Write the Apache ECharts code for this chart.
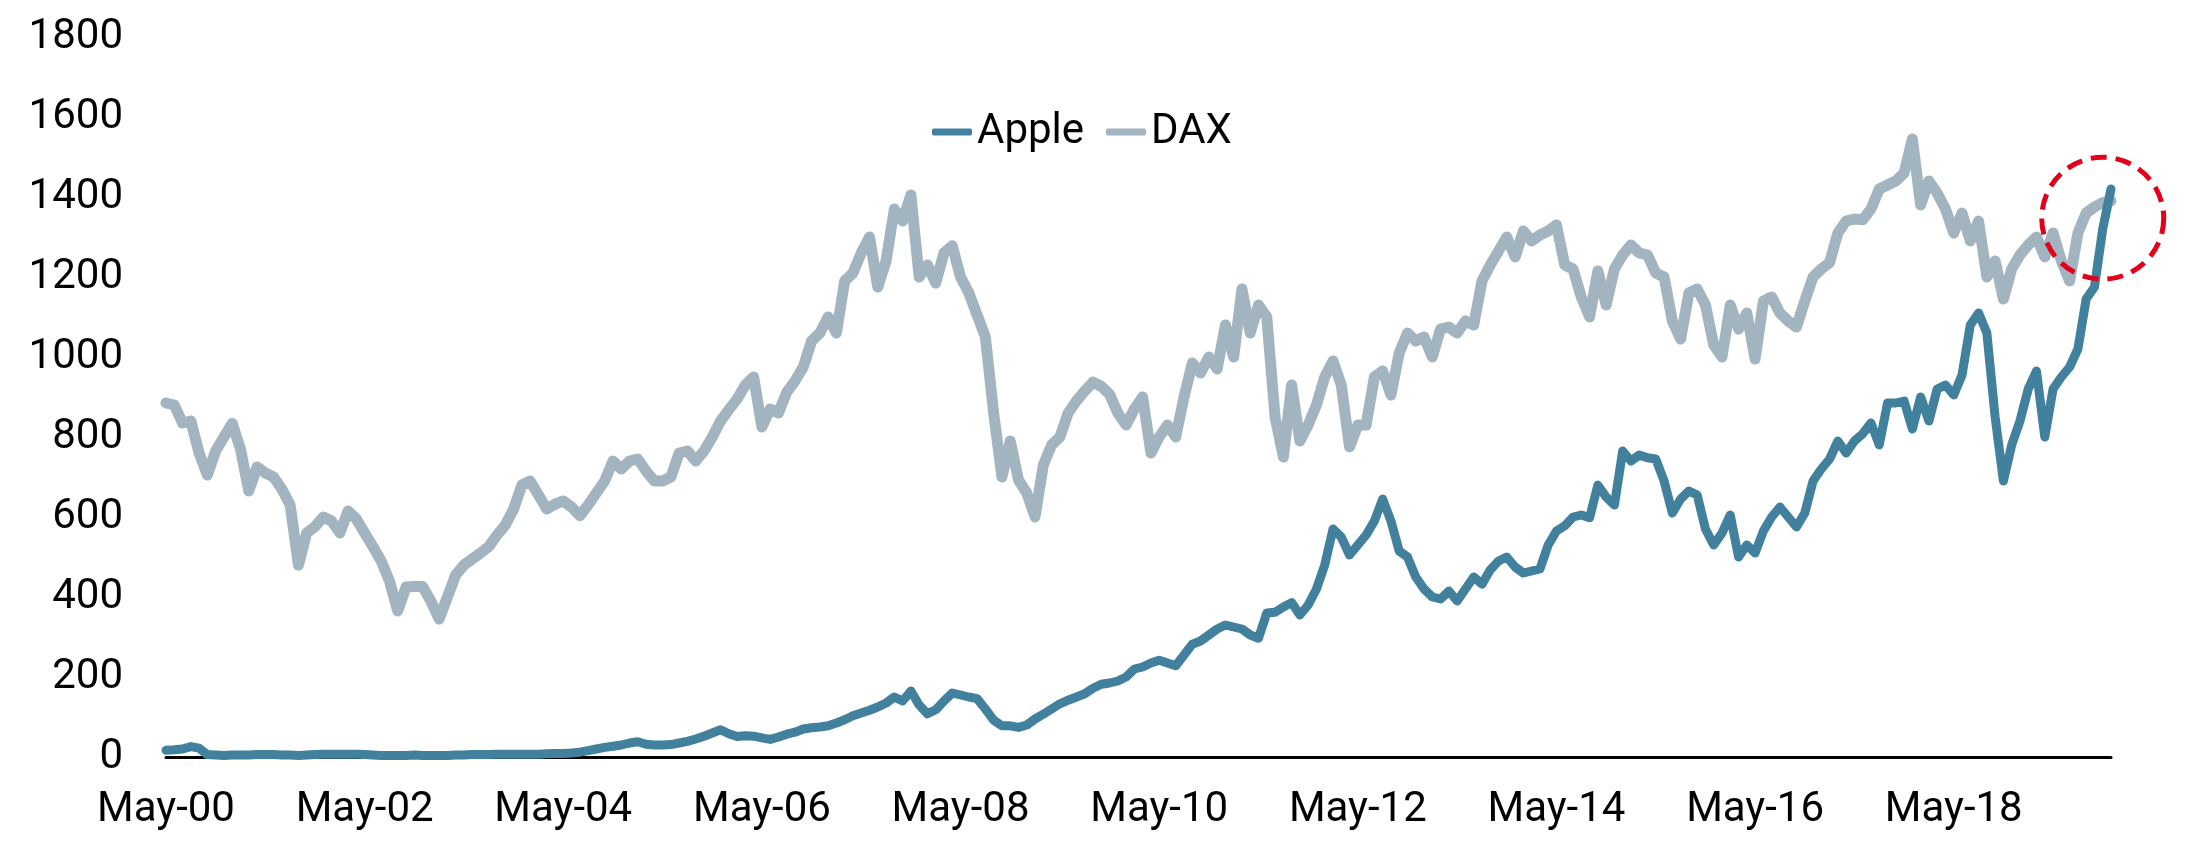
<!DOCTYPE html>
<html>
<head>
<meta charset="utf-8">
<script src="https://cdn.jsdelivr.net/npm/echarts@6/dist/echarts.min.js"></script>
<style>
html,body{margin:0;padding:0;background:#fff;}
#chart{width:2200px;height:850px;}
</style>
</head>
<body>
<div id="chart"></div>
<script>
// Monthly categories: May-00 .. Dec-19
const monthNames = ['Jan','Feb','Mar','Apr','May','Jun','Jul','Aug','Sep','Oct','Nov','Dec'];
const categories = [];
for (let y = 2000, m = 4; y < 2020; ) {
  categories.push(monthNames[m] + '-' + String(y % 100).padStart(2, '0'));
  m++; if (m > 11) { m = 0; y++; }
}

const seriesNames = ['Apple', 'DAX'];

const appleValues = [
  17,18,20,26,22,6,5,4,5,5,5,6,6,6,5,5,4,5,6,7,7,7,7,7,
  6,5,4,4,4,4,5,4,4,4,4,5,5,6,6,6,7,7,7,7,7,7,8,9,
  9,10,12,16,20,24,27,30,35,38,32,30,30,31,35,39,45,52,60,68,58,51,53,52,
  48,44,50,57,62,70,73,75,78,85,93,103,110,117,125,135,150,140,165,130,108,118,140,160,
  155,150,146,120,92,78,78,74,80,95,107,120,133,142,150,158,172,182,185,190,200,220,225,235,
  242,235,228,255,282,290,305,320,330,325,320,305,297,360,362,375,386,355,380,420,480,570,550,505,
  530,555,590,645,590,515,500,450,420,400,395,415,390,420,450,432,468,490,500,475,460,465,470,530,
  565,578,600,605,598,680,650,630,765,740,755,748,745,690,610,645,665,655,570,530,560,605,500,530,
  510,565,600,625,600,575,610,690,720,745,790,760,790,808,835,780,885,885,890,820,900,840,920,930,
  905,955,1080,1110,1060,850,690,780,840,920,965,800,920,950,975,1020,1145,1175,1320,1420
];

const daxValues = [
  885,880,835,840,760,705,765,800,834,770,665,725,710,700,670,630,480,560,576,600,590,560,615,595,
  560,526,490,440,365,425,426,426,390,345,400,455,480,495,510,526,555,580,620,680,690,655,620,632,
  640,625,603,630,660,690,740,720,740,745,715,690,690,700,760,765,740,765,800,840,868,895,930,950,
  825,870,860,912,940,975,1040,1060,1100,1060,1190,1210,1260,1300,1175,1240,1370,1340,1405,1200,1230,1185,1260,1278,
  1200,1160,1105,1050,860,700,790,693,660,600,730,780,800,860,890,915,937,927,907,860,830,870,900,760,
  800,830,800,900,985,960,1000,970,1080,1000,1170,1060,1130,1100,850,750,930,790,830,880,950,990,930,775,
  830,830,950,965,905,1010,1060,1040,1050,1000,1070,1075,1060,1090,1080,1190,1230,1265,1300,1250,1315,1290,1305,1315,
  1330,1230,1220,1150,1100,1215,1130,1220,1255,1280,1260,1255,1210,1200,1090,1045,1160,1170,1130,1030,1000,1130,1070,1110,
  995,1140,1150,1110,1090,1075,1140,1200,1220,1236,1310,1340,1345,1343,1370,1420,1430,1440,1460,1545,1380,1440,1410,1370,
  1310,1360,1290,1340,1200,1240,1145,1220,1255,1280,1300,1250,1310,1240,1190,1310,1360,1375,1386,1390
];

// Highlight annotation (red dashed circle) near the crossing point
const highlightCategory = 'Nov-19';
const highlightValue = 1347;

const yTicks = { min: 0, max: 1800, interval: 200 };

const chart = echarts.init(document.getElementById('chart'), null, { renderer: 'canvas' });
const font = 'Roboto, "Noto Sans", sans-serif';

chart.setOption({
  animation: false,
  backgroundColor: '#ffffff',
  grid: { left: 166, right: 89, top: 37, bottom: 93, containLabel: false },
  legend: {
    data: seriesNames,
    left: 927,
    top: 106,
    itemWidth: 40,
    itemHeight: 7,
    itemGap: 22,
    icon: 'roundRect',
    textStyle: { fontFamily: font, fontSize: 42, color: '#000' }
  },
  xAxis: {
    type: 'category',
    data: categories,
    boundaryGap: false,
    axisLine: { show: true, lineStyle: { color: '#000', width: 3 } },
    axisTick: { show: false },
    splitLine: { show: false },
    axisLabel: {
      interval: 23,
      margin: 32,
      fontFamily: font,
      fontSize: 42,
      color: '#000'
    }
  },
  yAxis: {
    type: 'value',
    min: yTicks.min,
    max: yTicks.max,
    interval: yTicks.interval,
    axisLine: { show: false },
    axisTick: { show: false },
    splitLine: { show: false },
    axisLabel: {
      margin: 43, fontFamily: font, fontSize: 42, color: '#000',
      formatter: function (v) { return String(v); }
    }
  },
  series: [
    {
      name: seriesNames[0],
      type: 'line',
      data: appleValues,
      symbol: 'none',
      z: 4,
      lineStyle: { color: '#41819E', width: 9, join: 'round', cap: 'round' },
      itemStyle: { color: '#41819E' },
      markPoint: {
        symbol: 'circle',
        symbolSize: 122,
        silent: true,
        label: { show: false },
        itemStyle: {
          color: 'rgba(0,0,0,0)',
          borderColor: '#E2001A',
          borderWidth: 5,
          borderType: [16, 9]
        },
        data: [{ coord: [highlightCategory, highlightValue] }]
      }
    },
    {
      name: seriesNames[1],
      type: 'line',
      data: daxValues,
      symbol: 'none',
      z: 3,
      lineStyle: { color: '#A3B4C1', width: 11, join: 'round', cap: 'round' },
      itemStyle: { color: '#A3B4C1' }
    }
  ]
});
</script>
</body>
</html>
